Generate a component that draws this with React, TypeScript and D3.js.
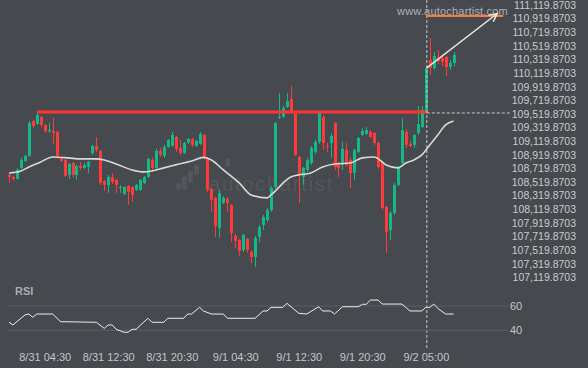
import { useEffect, useRef } from "react";
import * as d3 from "d3";

const width = 588;
const height = 368;

// 30 minute candles, index 0 = 8/31 00:30 ... index 105 = 9/2 05:00
// [open, high, low, close]
const ohlc: [number, number, number, number][] = [
  [108624, 108638, 108506, 108594], [108594, 108609, 108535, 108565], [108565, 108727, 108550, 108697],
  [108727, 108874, 108712, 108844], [108829, 108918, 108815, 108903], [108903, 109416, 108888, 109387],
  [109416, 109431, 109314, 109343], [109372, 109534, 109358, 109505], [109475, 109490, 109328, 109358],
  [109358, 109372, 109240, 109269], [109269, 109387, 109240, 109284], [109269, 109461, 109079, 109240],
  [109255, 109269, 108888, 108903], [108888, 108903, 108815, 108829], [108844, 108859, 108594, 108609],
  [108624, 108800, 108565, 108785], [108800, 108815, 108580, 108624], [108624, 108771, 108550, 108756],
  [108756, 108815, 108697, 108727], [108727, 108800, 108712, 108771], [108741, 108829, 108653, 108815],
  [108947, 109065, 108918, 109050], [109050, 109181, 108962, 108991], [108976, 108991, 108477, 108506],
  [108535, 108550, 108388, 108477], [108477, 108624, 108359, 108594], [108594, 108653, 108491, 108521],
  [108550, 108565, 108359, 108477], [108433, 108477, 108359, 108447], [108344, 108462, 108330, 108447],
  [108462, 108477, 108183, 108374], [108447, 108462, 108227, 108330], [108403, 108491, 108388, 108477],
  [108403, 108565, 108388, 108550], [108506, 108609, 108491, 108594], [108594, 108874, 108580, 108859],
  [108844, 108874, 108668, 108727], [108727, 109006, 108697, 108976], [108976, 109021, 108888, 108918],
  [108903, 109065, 108874, 109035], [109035, 109152, 109021, 109138], [109050, 109255, 109035, 109211],
  [109181, 109196, 108962, 109006], [109021, 109138, 108918, 108947], [108947, 109109, 108932, 109094],
  [109094, 109167, 109079, 109152], [109152, 109167, 109035, 109065], [109050, 109138, 109035, 109123],
  [109079, 109255, 109065, 109225], [109211, 109225, 108844, 108874], [108874, 108888, 108374, 108403],
  [108418, 108433, 108080, 108256], [108286, 108300, 107712, 107874], [107845, 108403, 107698, 108359],
  [108212, 108315, 108197, 108286], [108271, 108300, 108080, 108212], [108183, 108197, 107639, 107771],
  [107727, 107756, 107551, 107653], [107668, 107683, 107433, 107506], [107521, 107756, 107492, 107742],
  [107683, 107698, 107477, 107521], [107492, 107521, 107330, 107418], [107418, 107727, 107271, 107698],
  [107712, 107889, 107639, 107859], [107889, 108036, 107815, 108006], [107962, 108138, 107933, 108109],
  [108109, 108462, 108080, 108433], [108447, 109402, 108418, 109387], [109461, 109828, 109446, 109475],
  [109475, 109637, 109461, 109608], [109622, 109828, 109608, 109710], [109740, 109931, 109534, 109549],
  [109549, 109563, 108903, 108918], [108888, 108903, 108212, 108624], [108594, 108741, 108477, 108727],
  [108697, 108874, 108668, 108844], [108800, 109050, 108771, 109021], [108962, 109138, 108932, 109109],
  [109109, 109549, 109079, 109534], [109475, 109505, 108991, 109094], [109050, 109094, 108962, 109035],
  [109094, 109240, 108874, 109196], [109387, 109402, 108697, 108741], [108771, 108815, 108594, 108727],
  [108771, 109109, 108697, 109006], [108991, 109094, 108741, 108771], [108844, 108874, 108433, 108653],
  [108653, 109006, 108550, 108991], [108962, 109181, 108947, 109167], [109211, 109314, 109196, 109269],
  [109225, 109328, 109211, 109284], [109255, 109284, 109167, 109181], [109240, 109255, 109065, 109094],
  [109094, 109109, 108712, 108741], [108815, 108829, 108109, 108138], [108153, 108168, 107477, 107786],
  [107815, 108095, 107668, 108065], [108065, 108506, 108036, 108477], [108477, 108756, 108462, 108727],
  [108800, 109461, 108785, 109284], [109255, 109299, 109021, 109065], [109079, 109123, 109035, 109050],
  [109065, 109225, 109021, 109211], [109240, 109637, 109211, 109372], [109328, 109637, 109314, 109578],
  [109549, 110210, 109534, 110195], [110312, 110635, 110093, 110195], [110195, 110430, 110166, 110371],
  [110356, 110459, 110253, 110297], [110342, 110386, 110224, 110283], [110356, 110371, 110078, 110210],
  [110210, 110312, 110166, 110268], [110268, 110430, 110224, 110386],
];

// moving average, read at some candles
const maIndex = [0, 3, 5, 8, 11, 15, 18, 22, 24, 27, 31, 34, 36, 39, 42, 46, 49, 51, 54, 58,
  61, 65, 66, 71, 73, 76, 79, 82, 86, 89, 92, 95, 98, 100, 102, 104, 106, 108, 110, 112];
const maValues = [108653, 108682, 108741, 108815, 108888, 108874, 108859, 108859, 108844, 108785,
  108697, 108668, 108682, 108727, 108771, 108829, 108881, 108844, 108697, 108506,
  108330, 108286, 108330, 108594, 108624, 108653, 108741, 108785, 108800, 108874,
  108888, 108771, 108727, 108800, 108844, 108918, 109065, 109211, 109358, 109416];

const rsiIndex = [0, 1, 3, 4, 5, 6, 7, 11, 13, 22, 24, 25, 26, 27, 29, 30, 31, 32, 35, 36,
  39, 40, 44, 45, 46, 48, 49, 51, 54, 55, 62, 64, 65, 66, 69, 70, 73, 75, 78, 79,
  81, 82, 84, 88, 89, 90, 91, 93, 94, 99, 101, 104, 105, 106, 107, 108, 110, 112];
const rsiValues = [46.6, 44.4, 49.9, 52.6, 53.4, 50.7, 53.4, 53.4, 47.1, 46.6, 41.6, 44.4, 44.4, 40.8, 38.4,
  38.4, 40.8, 40.8, 49.9, 46.6, 46.6, 49.9, 49.9, 53.4, 53.4, 58.9, 55.9, 53.4, 53.4, 49.9,
  49.9, 55.9, 55.9, 58.9, 58.9, 62.2, 54.0, 53.4, 59.4, 55.9, 55.9, 53.4, 59.4, 59.4, 61.4,
  61.4, 64.9, 64.9, 61.6, 61.6, 55.9, 55.9, 58.9, 58.9, 61.6, 58.1, 53.4, 53.4];

const priceTicks = [107119.8703, 107319.8703, 107519.8703, 107719.8703, 107919.8703, 108119.8703,
  108319.8703, 108519.8703, 108719.8703, 108919.8703, 109119.8703, 109319.8703, 109519.8703,
  109719.8703, 109919.8703, 110119.8703, 110319.8703, 110519.8703, 110719.8703, 110919.8703, 111119.8703];
const timeTickIndex = [9, 25, 41, 57, 73, 89, 105];
const timeTickLabels = ["8/31 04:30", "8/31 12:30", "8/31 20:30", "9/1 04:30", "9/1 12:30", "9/1 20:30", "9/2 05:00"];
const rsiTicks = [40, 60];

// pattern: resistance level, breakout, forecast
const resistance = 109549;
const resistanceFrom = 7;
const breakoutIndex = 105.25;
const breakoutPrice = 110195;
const targetPrice = 110958;
const targetEnd = 124.5;
const arrowEnd: [number, number] = [123, 110995];
const currentLevel = 109534;

const BG = "#46494e";
const GREEN = "#13b886";
const RED = "#fe3a3a";
const FONT = "'Liberation Sans', Arial, sans-serif";

const App = () => {
  const priceAxisRef = useRef<SVGGElement>(null);
  const timeAxisRef = useRef<SVGGElement>(null);

  const x = d3.scaleLinear().domain([0, 112]).range([9, 453.6]);
  const y = d3.scaleLinear().domain([107119.8703, 111119.8703]).range([277.3, 5]);
  const yRsi = d3.scaleLinear().domain([40, 60]).range([330.3, 306]);

  useEffect(() => {
    const priceAxis = d3.axisRight(y).tickValues(priceTicks).tickFormat(d3.format(",.4f")).tickSize(0).tickPadding(0);
    const pg = d3.select(priceAxisRef.current).call(priceAxis as any);
    pg.select(".domain").remove();
    pg.attr("font-family", FONT).attr("font-size", 10.5).attr("text-anchor", "end");
    pg.selectAll("text").attr("fill", "#c9cbce");

    const timeAxis = d3.axisBottom(x).tickValues(timeTickIndex)
      .tickFormat((_d, i) => timeTickLabels[i]).tickSize(0).tickPadding(0);
    const tg = d3.select(timeAxisRef.current).call(timeAxis as any);
    tg.select(".domain").remove();
    tg.attr("font-family", FONT).attr("font-size", 11);
    tg.selectAll("text").attr("fill", "#c4c6c9");
  }, []);

  const maLine = d3.line<number>()
    .x((_d, i) => x(maIndex[i]))
    .y((d) => y(d))
    .curve(d3.curveMonotoneX);

  const rsiLine = d3.line<number>()
    .x((_d, i) => x(rsiIndex[i]))
    .y((d) => yRsi(d));

  const bx = x(breakoutIndex);
  const ax0 = bx, ay0 = y(breakoutPrice);
  const ax1 = x(arrowEnd[0]), ay1 = y(arrowEnd[1]);
  const ang = Math.atan2(ay1 - ay0, ax1 - ax0);
  const headLen = 9;
  const head = [ang + Math.PI - 0.45, ang + Math.PI + 0.45].map((a) => [ax1 + headLen * Math.cos(a), ay1 + headLen * Math.sin(a)]);

  return (
    <svg width={width} height={height} viewBox={`0 0 ${width} ${height}`}
      style={{ position: "absolute", left: 0, top: 0, display: "block" }}>
      <rect width={width} height={height} fill={BG} />

      {/* watermarks */}
      <g className="watermark" fill="#53565b">
        {[[176, 183, 190], [182, 176, 190], [188, 171, 183], [194, 165, 175], [225, 158, 167]].map(([bxp, top, bot], i) => (
          <rect key={i} x={bxp} y={top} width={5} height={bot - top} rx={2} />
        ))}
        <text x={209} y={191} fontFamily={FONT} fontSize={20} letterSpacing={1.8}>autochartist</text>
      </g>
      <text x={397} y={15} fontFamily={FONT} fontSize={11} letterSpacing={0.2} fill="#aeb1b4">www.autochartist.com</text>

      {/* candles */}
      <g className="candles">
        {ohlc.map(([o, h, l, c], i) => {
          const cx = Math.round(x(i));
          const up = c >= o;
          const col = up ? GREEN : RED;
          const top = y(Math.max(o, c));
          const bh = Math.max(1, y(Math.min(o, c)) - top);
          return (
            <g key={i}>
              <line x1={cx + 0.5} x2={cx + 0.5} y1={y(h)} y2={y(l)} stroke={col} strokeWidth={1} />
              <rect x={cx - 1} y={top} width={3} height={bh} fill={col} />
            </g>
          );
        })}
      </g>

      <path d={maLine(maValues) ?? ""} fill="none" stroke="#d8d8d8" strokeWidth={1.6} />

      {/* resistance and breakout */}
      <line x1={x(resistanceFrom)} x2={bx} y1={y(resistance)} y2={y(resistance)} stroke="#ff3434" strokeWidth={3} />
      <line x1={bx} x2={bx} y1={0} y2={350} stroke="#c9c9c9" strokeWidth={1} strokeDasharray="3,2" />
      <line x1={bx} x2={510} y1={y(currentLevel)} y2={y(currentLevel)} stroke="#c9c9c9" strokeWidth={1} strokeDasharray="3,2" />
      <line x1={bx} x2={x(targetEnd)} y1={y(targetPrice)} y2={y(targetPrice)} stroke="#ff7a3a" strokeWidth={2} />
      <line x1={ax0} y1={ay0} x2={ax1} y2={ay1} stroke="#e6e6e6" strokeWidth={1.5} />
      <polyline points={`${head[0][0]},${head[0][1]} ${ax1},${ay1} ${head[1][0]},${head[1][1]}`}
        fill="none" stroke="#e6e6e6" strokeWidth={1.5} />

      <g ref={priceAxisRef} transform="translate(576,0)" />

      {/* RSI panel */}
      <text x={15} y={295} fontFamily={FONT} fontSize={11} fontWeight="bold" fill="#a9acb0">RSI</text>
      {rsiTicks.map((t) => (
        <g key={t}>
          <line x1={7} x2={508} y1={yRsi(t)} y2={yRsi(t)} stroke="#5c5f64" strokeWidth={1} />
          <text x={510} y={yRsi(t)} dy="0.35em" fontFamily={FONT} fontSize={11} fill="#c4c6c9">{t}</text>
        </g>
      ))}
      <path d={rsiLine(rsiValues) ?? ""} fill="none" stroke="#eeeeee" strokeWidth={1} />

      <g ref={timeAxisRef} transform="translate(0,353)" />
    </svg>
  );
};

export default App;
